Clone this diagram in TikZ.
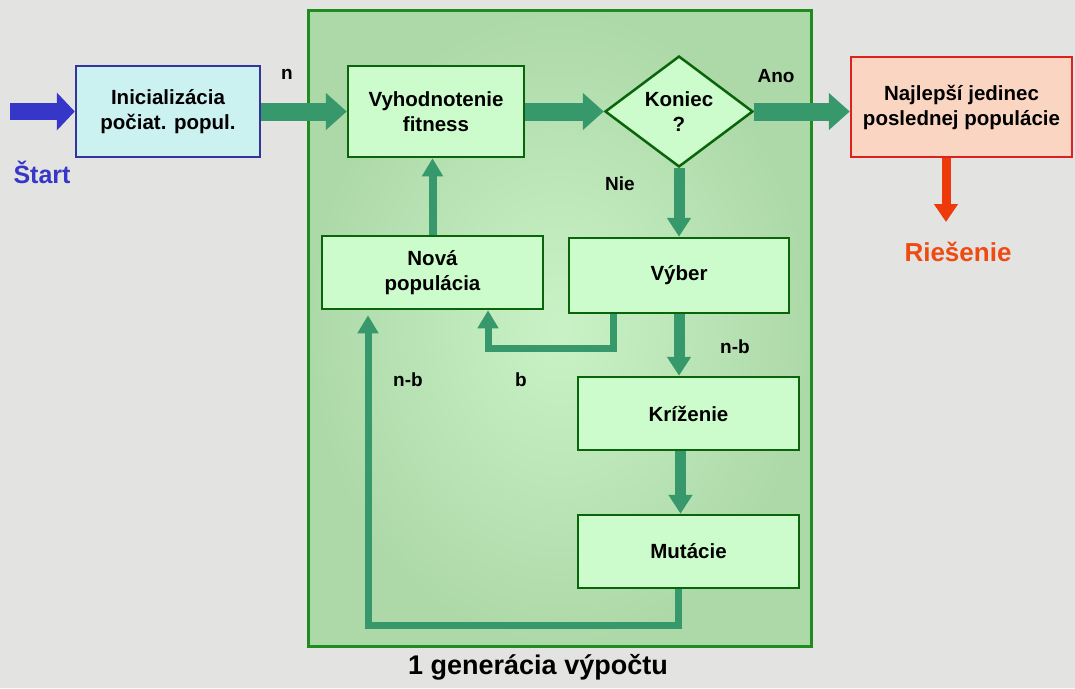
\documentclass[tikz,border=0pt]{standalone}
\usepackage{fontspec}
\setmainfont{Liberation Sans}
\usetikzlibrary{arrows.meta,shapes.geometric,calc}
\definecolor{bgc}{HTML}{E3E3E1}
\definecolor{contin}{HTML}{C9F3C6}
\definecolor{contout}{HTML}{ADD8A8}
\definecolor{contborder}{HTML}{1E8C1E}
\definecolor{gbox}{HTML}{CCFCCC}
\definecolor{gborder}{HTML}{0A640A}
\definecolor{garrow}{HTML}{36986B}
\definecolor{initfill}{HTML}{CCF1F1}
\definecolor{initborder}{HTML}{34349C}
\definecolor{bluearrow}{HTML}{3636C8}
\definecolor{najfill}{HTML}{FAD6C2}
\definecolor{najborder}{HTML}{DD2020}
\definecolor{redarrow}{HTML}{EE3A0A}
\definecolor{redtext}{HTML}{EE4A12}
\newcommand\btxt{\fontsize{20.5}{25}\selectfont\bfseries}
\newcommand\ltxt{\fontsize{19}{22}\selectfont\bfseries}
\begin{document}
\begin{tikzpicture}[x=1pt,y=-1pt,
  box/.style={draw=gborder, line width=2.5pt, fill=gbox, inner sep=0pt, align=center, font=\btxt},
  lbl/.style={font=\ltxt, inner sep=0pt},
  bigarrow/.style={line width=18pt, draw=garrow, -{Triangle[width=36pt,length=21pt]}},
  midarrow/.style={line width=11pt, draw=garrow, line join=miter, -{Triangle[width=23pt,length=19pt]}},
  slimarrow/.style={line width=7pt, draw=garrow, line join=miter, -{Triangle[width=20pt,length=18pt]}}
]
\useasboundingbox (0,0) rectangle (1075,688);
\fill[bgc] (0,0) rectangle (1075,688);
% container
\shade[inner color=contin, outer color=contout] (308,10) rectangle (811,646);
\draw[contborder, line width=3pt] (308,10) rectangle (811,646);

% nodes
\node[box, fill=initfill, draw=initborder, minimum width=184pt, minimum height=91pt] (init) at (168,111.5) {Inicializácia\\počiat. popul.};
\node[box, minimum width=176pt, minimum height=91pt] (vyh) at (436,111.5) {Vyhodnotenie\\fitness};
\node[box, diamond, aspect=1.33, minimum width=148pt, minimum height=111pt] (kon) at (679,111.5) {Koniec\\?};
\node[box, fill=najfill, draw=najborder, minimum width=221pt, minimum height=100pt] (naj) at (961.5,107) {Najlepší jedinec\\poslednej populácie};
\node[box, minimum width=221pt, minimum height=73pt] (nova) at (432.5,272.5) {Nová\\populácia};
\node[box, minimum width=220pt, minimum height=75pt] (vyb) at (679,275.5) {Výber};
\node[box, minimum width=221pt, minimum height=73pt] (kriz) at (688.5,413.5) {Kríženie};
\node[box, minimum width=221pt, minimum height=73pt] (mut) at (688.5,551.5) {Mutácie};

% labels
\node[lbl] (ln) at (287,74) {n};
\node[lbl] (lano) at (776,76) {Ano};
\node[lbl] (lnie) at (620,184) {Nie};
\node[lbl] (lnb1) at (735,347) {n-b};
\node[lbl] (lnb2) at (408,380) {n-b};
\node[lbl] (lb) at (521,380) {b};
\node[font=\fontsize{25}{28}\selectfont\bfseries, text=bluearrow, inner sep=0pt] (start) at (42,172) {Štart};
\node[font=\fontsize{26}{29}\selectfont\bfseries, text=redtext, inner sep=0pt] (ries) at (958,252) {Riešenie};
\node[font=\fontsize{27}{30}\selectfont\bfseries, inner sep=0pt] (gen) at (538,667) {1 generácia výpočtu};

% connectors
\coordinate (s0) at (10,111.5);
\draw[line width=17pt, draw=bluearrow, -{Triangle[width=37pt,length=18pt]}] (s0) -- (init.west);
\draw[bigarrow] (init.east) -- (vyh.west);
\draw[bigarrow] (vyh.east) -- (kon.west);
\draw[bigarrow] (kon.east) -- (kon.east -| naj.west);
\coordinate (rtip) at (946,222);
\draw[line width=9pt, draw=redarrow, -{Triangle[width=23pt,length=18pt]}] (naj.south -| rtip) -- (rtip);
\draw[midarrow] (kon.south) -- (kon.south |- vyb.north);
\draw[slimarrow, line width=8pt] (nova.north) -- (nova.north |- vyh.south);
\coordinate (bturn) at (488,348);
\draw[slimarrow] ([xshift=-66pt]vyb.south) |- (bturn) -- (bturn |- nova.south);
\draw[midarrow] (vyb.south) -- (vyb.south |- kriz.north);
\draw[midarrow] ([xshift=-8pt]kriz.south) -- ([xshift=-8pt]mut.north);
\coordinate (lturn) at (368,625);
\draw[slimarrow, shorten >=5pt] ([xshift=-10pt]mut.south) |- (lturn) -- (lturn |- nova.south);
\end{tikzpicture}
\end{document}
